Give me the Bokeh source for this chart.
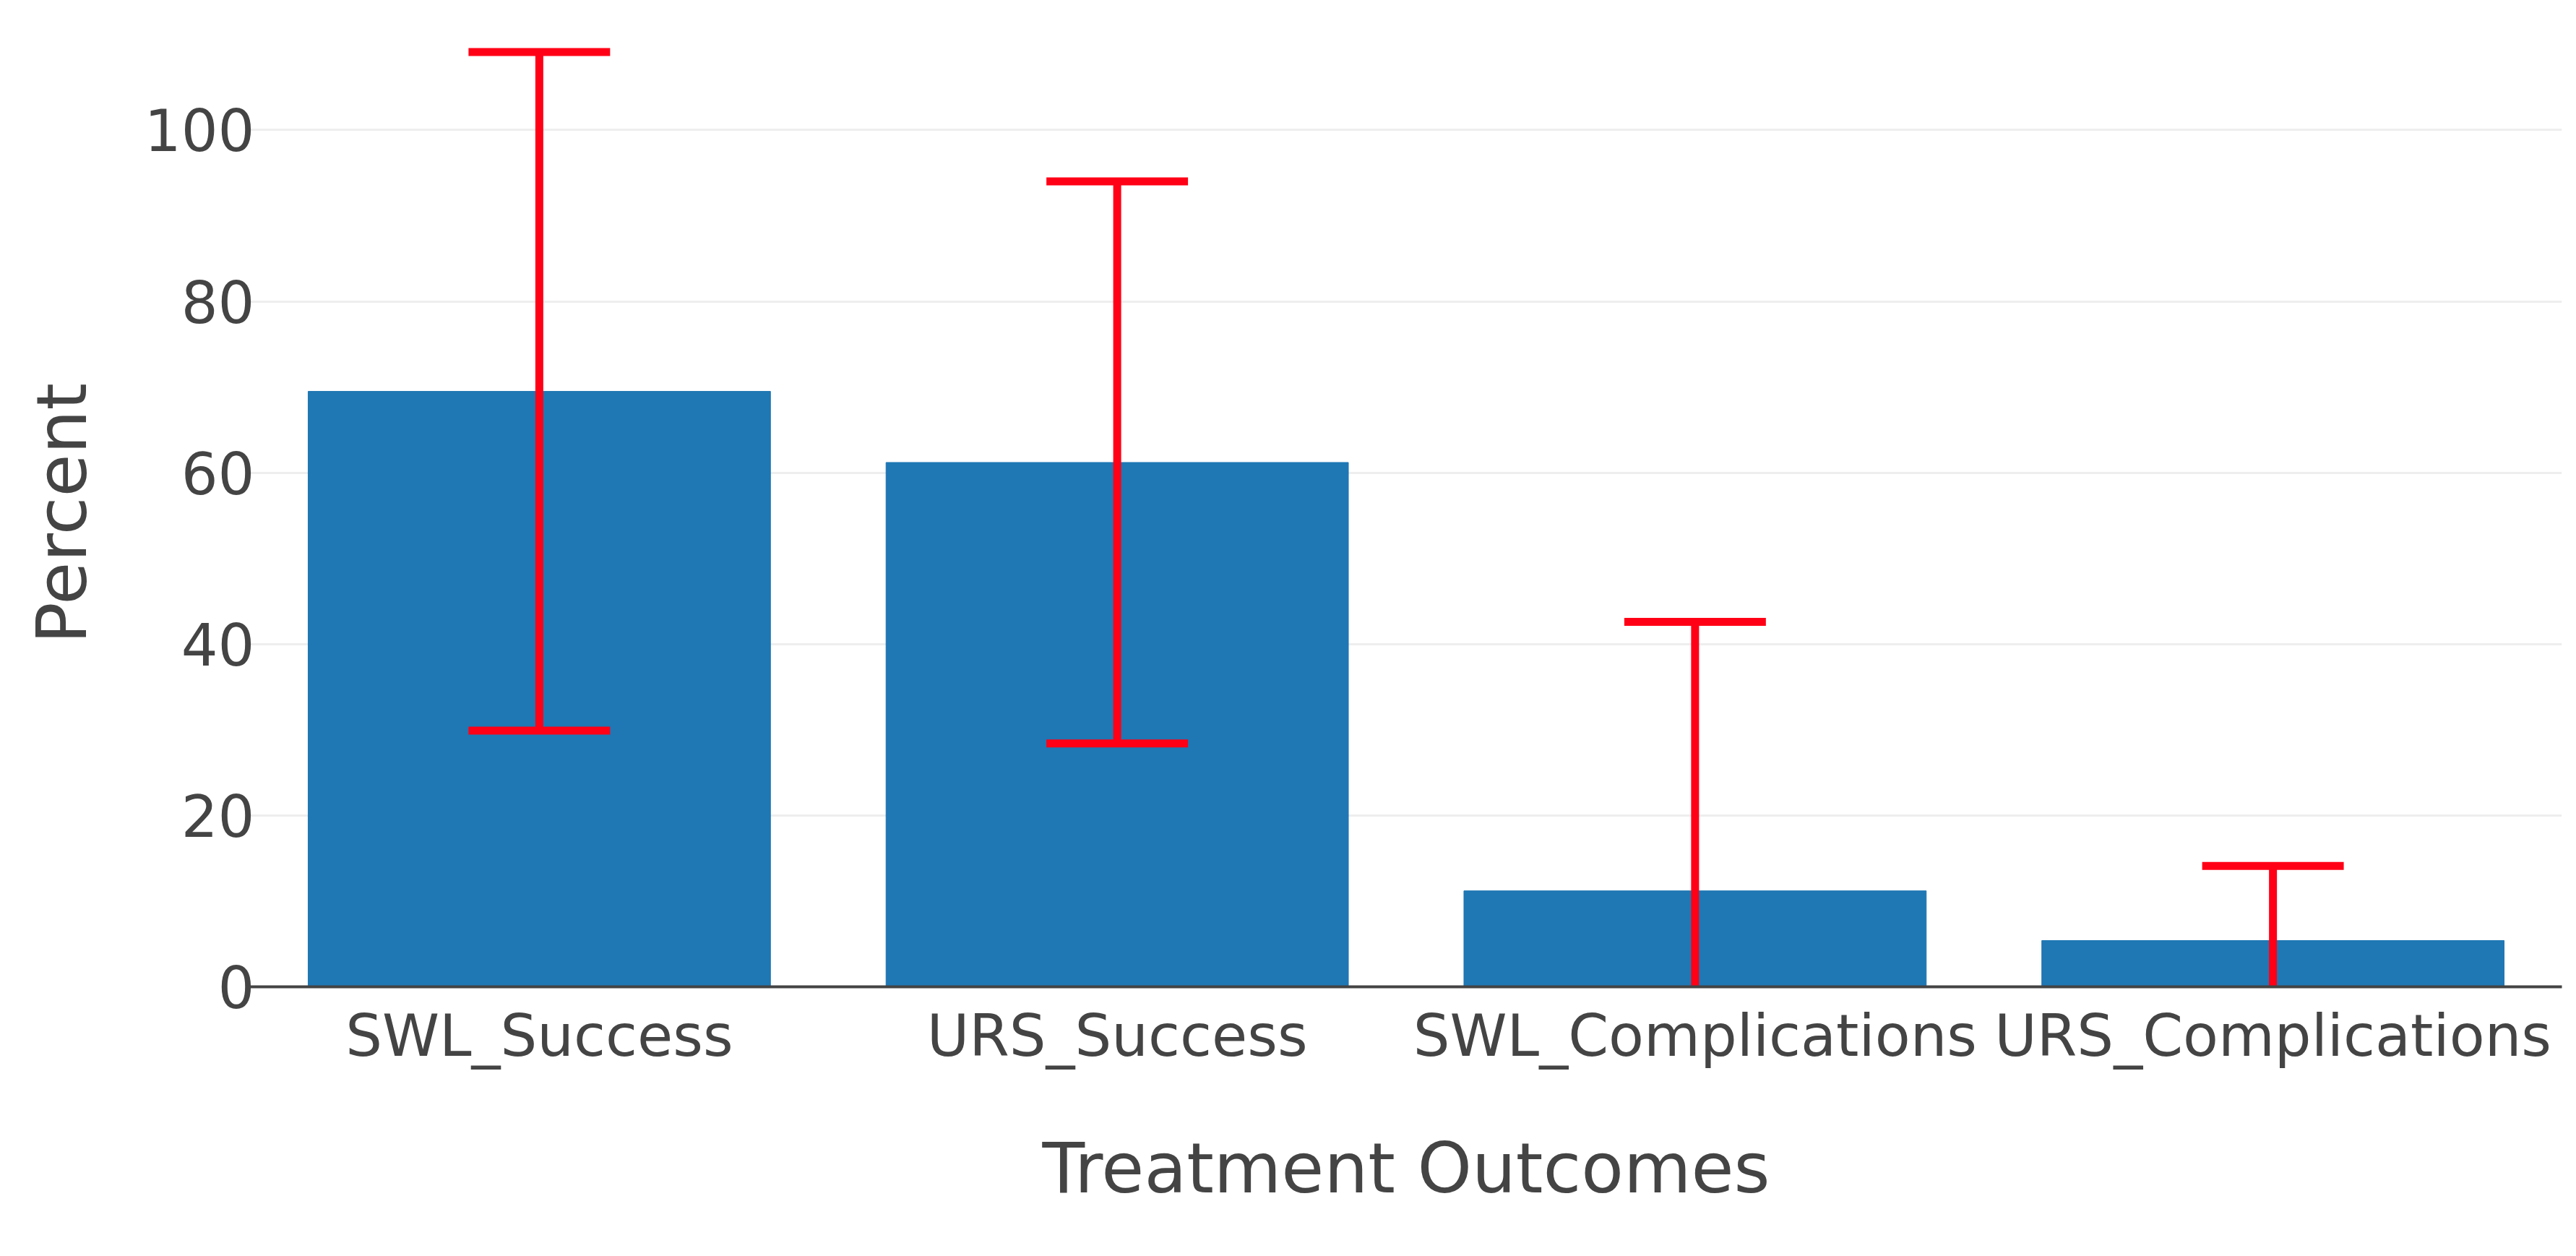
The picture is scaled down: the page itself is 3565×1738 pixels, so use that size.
from bokeh.plotting import figure
from bokeh.models import FactorRange, Range1d, ColumnDataSource, FixedTicker
from bokeh.transform import dodge
from bokeh.embed import file_html
from bokeh.resources import INLINE

categories = ["SWL_Success", "URS_Success", "SWL_Complications", "URS_Complications"]
percent = [69.5, 61.2, 11.2, 5.4]
error = [39.6, 32.8, 31.4, 8.7]
y_ticks = [0, 20, 40, 60, 80, 100]

lower = [v - e for v, e in zip(percent, error)]
upper = [v + e for v, e in zip(percent, error)]
src = ColumnDataSource(dict(cat=categories, val=percent, lo=lower, hi=upper))

FONT = "DejaVu Sans"
TXT = "#444444"

p = figure(width=3549, height=1722,
           x_range=FactorRange(*categories), y_range=Range1d(0, 110.5),
           output_backend="svg", toolbar_location=None,
           min_border_left=346, min_border_right=4, min_border_top=55, min_border_bottom=357)

p.vbar(x="cat", top="val", bottom=0, width=0.8, fill_color="#1f77b4", line_color="#1f77b4", source=src)

ERR = "#ff0016"
p.segment(x0="cat", y0="lo", x1="cat", y1="hi", line_color=ERR, line_width=11, source=src)
cap = 0.1225
p.segment(x0=dodge("cat", -cap, range=p.x_range), y0="hi", x1=dodge("cat", cap, range=p.x_range), y1="hi",
          line_color=ERR, line_width=11, source=src)
p.segment(x0=dodge("cat", -cap, range=p.x_range), y0="lo", x1=dodge("cat", cap, range=p.x_range), y1="lo",
          line_color=ERR, line_width=11, source=src)

p.outline_line_color = None
p.background_fill_color = "white"
p.xgrid.grid_line_color = None
p.ygrid.grid_line_color = "#eeeeee"
p.ygrid.grid_line_width = 3

p.yaxis.ticker = FixedTicker(ticks=y_ticks)
for ax in (p.xaxis, p.yaxis):
    ax.major_tick_line_color = None
    ax.minor_tick_line_color = None
    ax.major_tick_out = 0
    ax.major_tick_in = 0
    ax.major_label_text_font = FONT
    ax.major_label_text_font_size = "80px"
    ax.major_label_text_color = TXT
    ax.axis_label_text_font = FONT
    ax.axis_label_text_font_size = "96px"
    ax.axis_label_text_color = TXT
    ax.axis_label_text_font_style = "normal"

p.yaxis.axis_line_color = None
p.yaxis.major_label_standoff = -6
p.yaxis.axis_label = "Percent"
p.yaxis.axis_label_standoff = 55

p.xaxis.axis_line_color = TXT
p.xaxis.axis_line_width = 4
p.xaxis.major_label_standoff = 21
p.xaxis.axis_label = "Treatment Outcomes"
p.xaxis.axis_label_standoff = 78

open("out.html", "w").write(file_html(p, INLINE))
